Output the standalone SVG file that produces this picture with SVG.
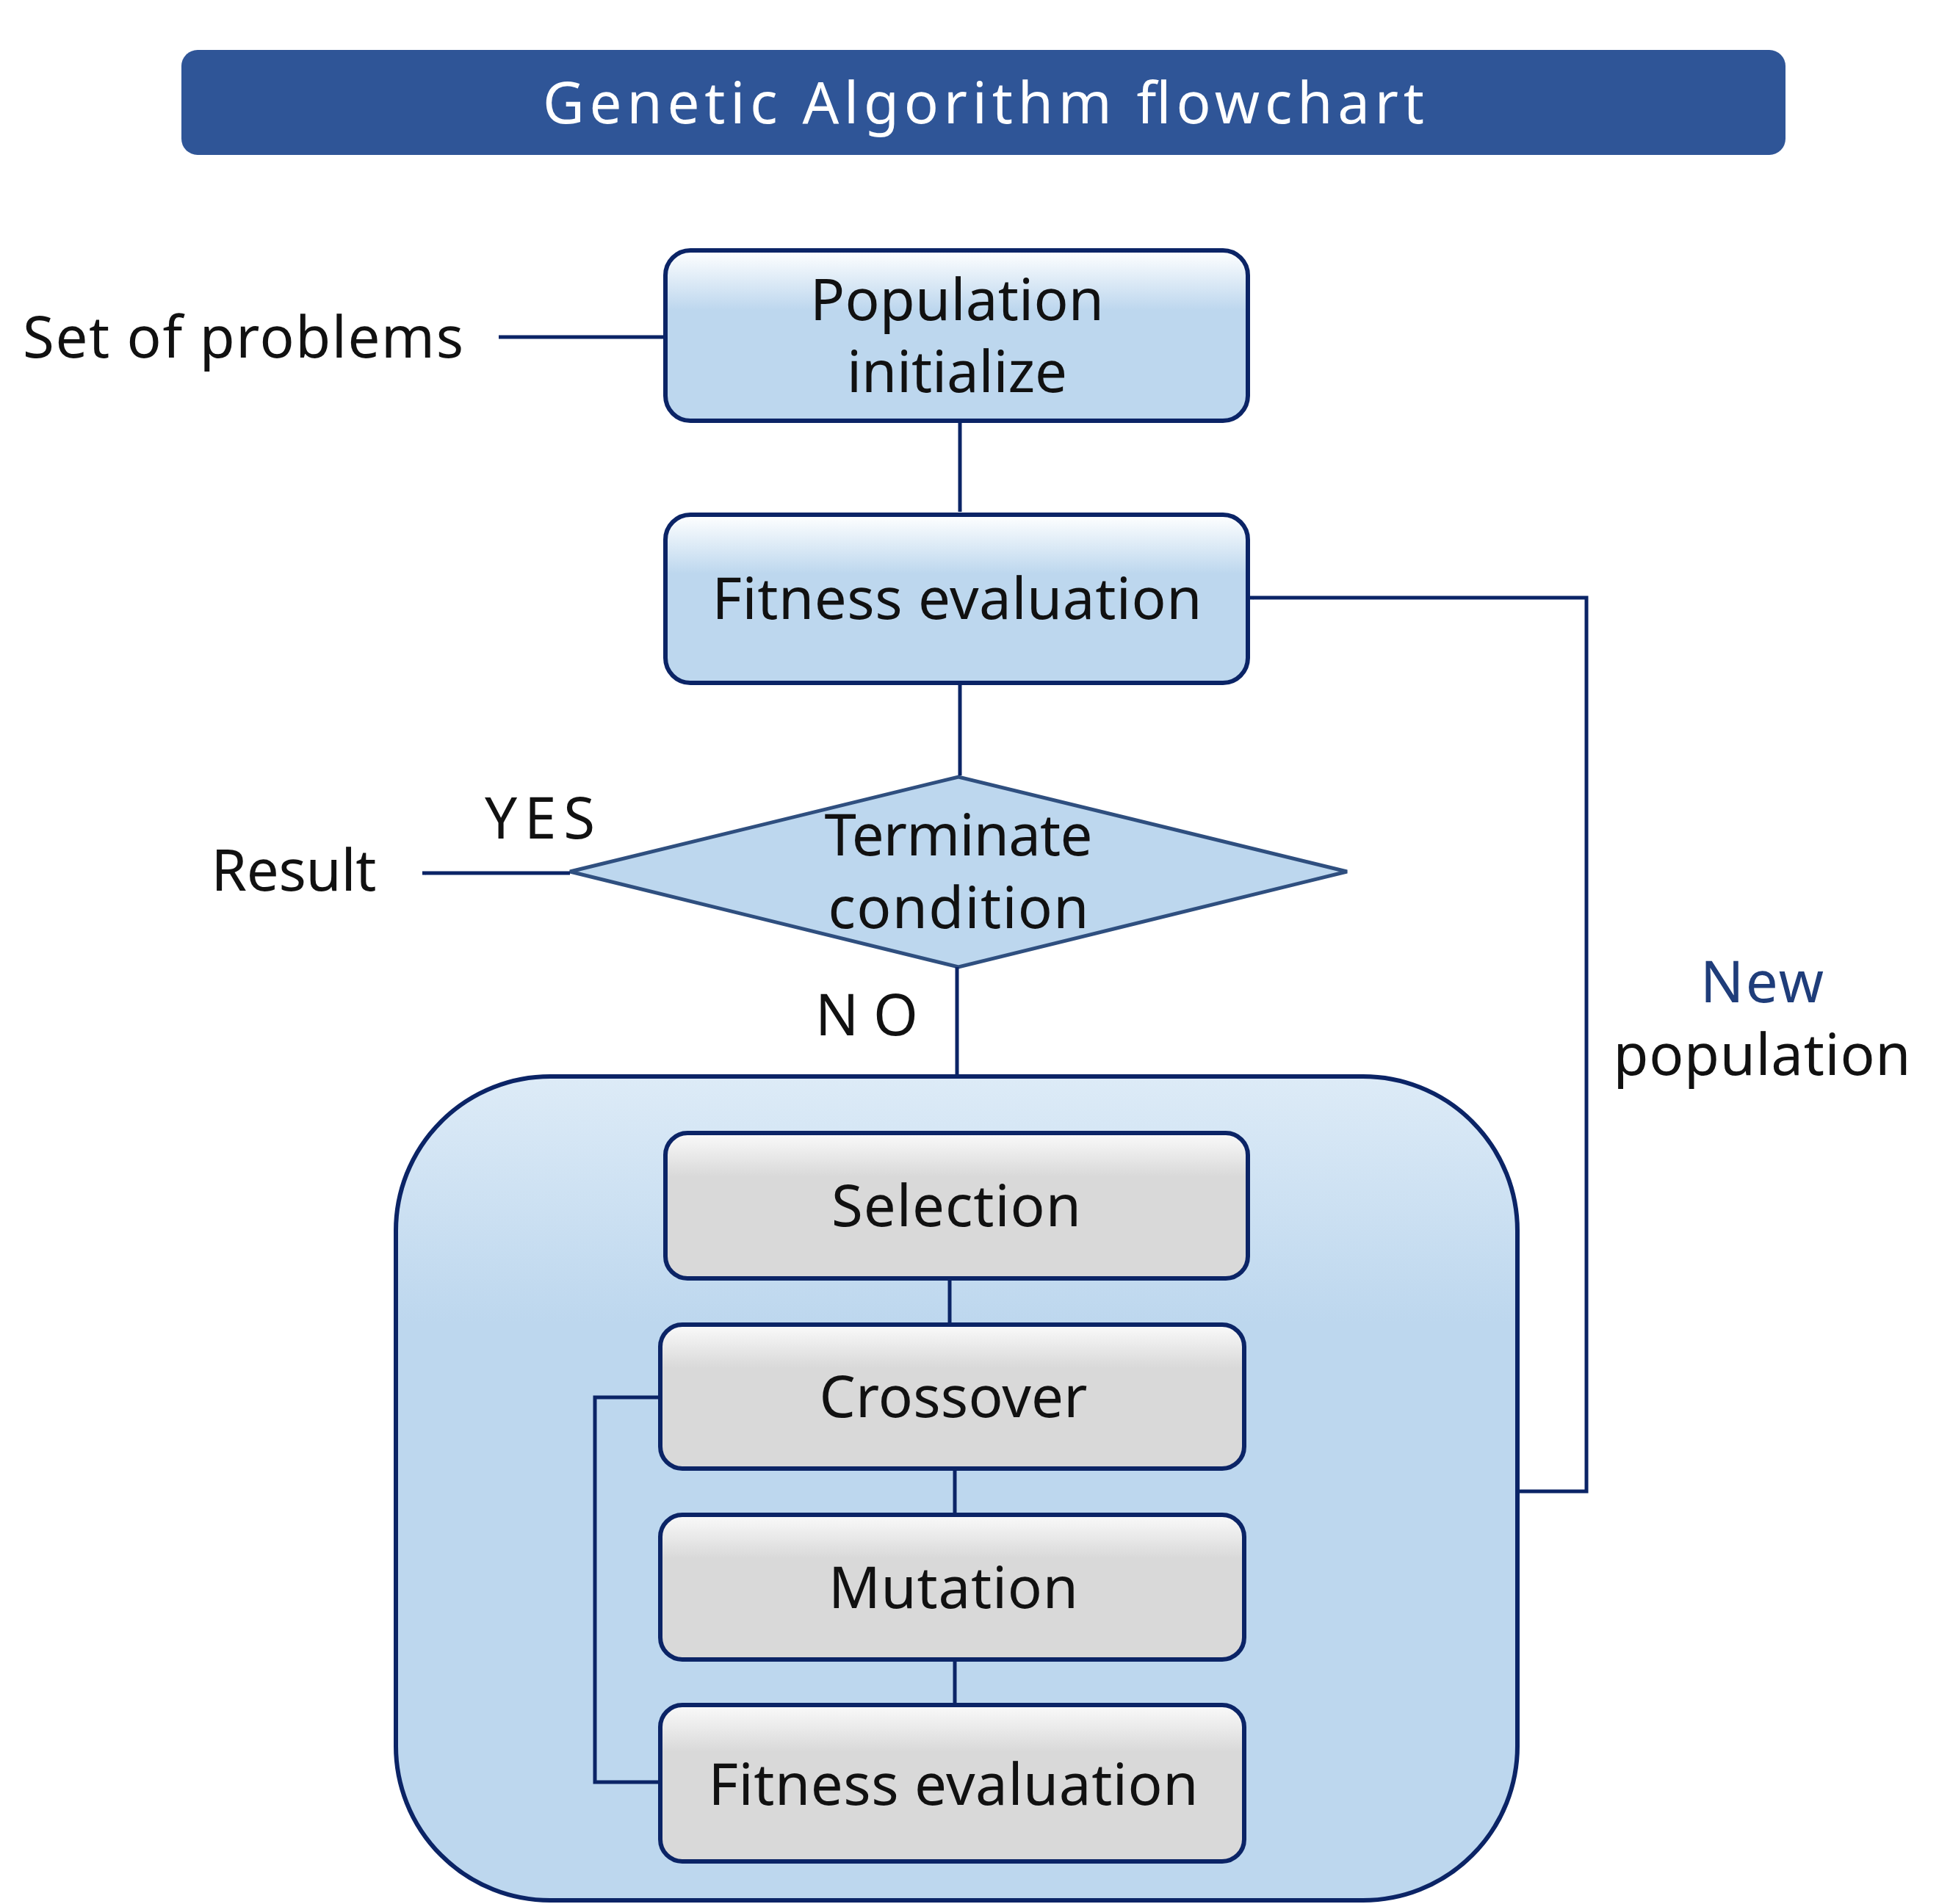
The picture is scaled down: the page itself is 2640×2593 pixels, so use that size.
<svg xmlns="http://www.w3.org/2000/svg" width="2640" height="2593" viewBox="0 0 2640 2593">
<style>
text{font-family:"Noto Sans","Liberation Sans",sans-serif;font-size:78px;fill:#111;text-anchor:middle}
.box{stroke:#0B2466;stroke-width:6}
.blue{fill:url(#gb)}
.gray{fill:url(#gg)}
.c{fill:none;stroke:#0B2466;stroke-width:5}
</style>
<defs>
<linearGradient id="gb" x1="0" y1="0" x2="0" y2="1"><stop offset="0" stop-color="#FFFFFF"/><stop offset="0.35" stop-color="#BDD7EE"/><stop offset="1" stop-color="#BDD7EE"/></linearGradient>
<linearGradient id="gg" x1="0" y1="0" x2="0" y2="1"><stop offset="0" stop-color="#FAFAFA"/><stop offset="0.3" stop-color="#D9D9D9"/><stop offset="1" stop-color="#D9D9D9"/></linearGradient>
<linearGradient id="gc" x1="0" y1="0" x2="0" y2="1"><stop offset="0" stop-color="#DDEBF7"/><stop offset="0.3" stop-color="#BDD7EE"/><stop offset="1" stop-color="#BDD7EE"/></linearGradient>
<marker id="ah" viewBox="0 0 10 10" refX="9" refY="5" markerWidth="5" markerHeight="5" orient="auto" markerUnits="userSpaceOnUse"><path d="M0,0 L10,5 L0,10 z" fill="#0B2466"/></marker>
<marker id="a" viewBox="0 0 10 10" refX="10" refY="5" markerWidth="5" markerHeight="5" orient="auto"><path d="M0,1 L10,5 L0,9 z" fill="#0B2466"/></marker>
</defs>
<g id="title"><rect x="247" y="68" width="2184" height="143" rx="22" fill="#2F5597"/><text x="1339" y="168" font-size="88" fill="#FFFFFF" style="fill:#fff" textLength="1200">Genetic Algorithm flowchart</text></g>
<g id="container"><rect x="539" y="1466" width="1527" height="1122" rx="210" class="box" fill="url(#gc)"/></g>
<g id="pop"><rect x="906" y="341" width="793" height="232" rx="34" class="box blue"/><text x="1303" y="436" textLength="400">Population</text><text x="1303" y="534" textLength="300">initialize</text></g>
<g id="fit1"><rect x="906" y="701" width="793" height="229" rx="34" class="box blue"/><text x="1303" y="843" textLength="667">Fitness evaluation</text></g>
<g id="term"><polygon points="776,1187 1305,1058 1834,1187 1305,1317" fill="#BDD7EE" stroke="#2F4F7F" stroke-width="5"/><text x="1305" y="1165" textLength="365">Terminate</text><text x="1305" y="1264" textLength="355">condition</text></g>
<g id="sel"><rect x="906" y="1543" width="793" height="198" rx="30" class="box gray"/><text x="1302" y="1670" textLength="340">Selection</text></g>
<g id="cross"><rect x="899" y="1804" width="795" height="196" rx="30" class="box gray"/><text x="1298" y="1930" textLength="365">Crossover</text></g>
<g id="mut"><rect x="899" y="2063" width="795" height="197" rx="30" class="box gray"/><text x="1298" y="2190" textLength="340">Mutation</text></g>
<g id="fit2"><rect x="899" y="2322" width="795" height="213" rx="30" class="box gray"/><text x="1298" y="2458" textLength="667">Fitness evaluation</text></g>
<g id="labels">
<text x="331" y="487" textLength="600">Set of problems</text>
<text x="400" y="1213" textLength="225">Result</text>
<text x="735" y="1142" font-size="92" textLength="150">YES</text>
<text x="1180" y="1410" font-size="92" textLength="140">NO</text>
<text x="2399" y="1365" style="fill:#1F3D7A" textLength="168">New</text>
<text x="2399" y="1464" textLength="405">population</text>
</g>
<g id="connectors">
<line x1="679" y1="459" x2="904" y2="459" class="c" marker-end="url(#ah)"/>
<line x1="1307" y1="573" x2="1307" y2="697" class="c" marker-end="url(#ah)"/>
<line x1="1307" y1="930" x2="1307" y2="1056" class="c" marker-end="url(#ah)"/>
<line x1="776" y1="1189" x2="575" y2="1189" class="c" marker-end="url(#ah)"/>
<line x1="1303" y1="1317" x2="1303" y2="1463" class="c" marker-end="url(#ah)"/>
<line x1="1293" y1="1741" x2="1293" y2="1801" class="c" marker-end="url(#ah)"/>
<line x1="1300" y1="2000" x2="1300" y2="2060" class="c" marker-end="url(#ah)"/>
<line x1="1300" y1="2260" x2="1300" y2="2319" class="c" marker-end="url(#ah)"/>
<polyline points="899,2427 810,2427 810,1903 896,1903" class="c" marker-end="url(#ah)"/>
<polyline points="2066,2031 2160,2031 2160,814 1702,814" class="c" marker-end="url(#ah)"/>
</g>
</svg>
